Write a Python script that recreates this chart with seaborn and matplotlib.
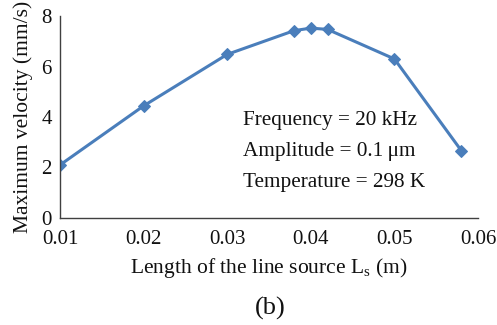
import matplotlib
matplotlib.use("Agg")
import matplotlib.pyplot as plt
import seaborn as sns
import pandas as pd

length_m = [0.01, 0.02, 0.03, 0.038, 0.04, 0.042, 0.05, 0.058]
max_velocity = [2.1, 4.44, 6.48, 7.42, 7.52, 7.47, 6.30, 2.67]
x_ticks = [0.01, 0.02, 0.03, 0.04, 0.05, 0.06]
x_tick_labels = ["0.01", "0.02", "0.03", "0.04", "0.05", "0.06"]
y_ticks = [0, 2, 4, 6, 8]
annotations = ["Frequency = 20 kHz", "Amplitude = 0.1\u2009\u03bcm", "Temperature = 298 K"]

sns.set_style("white")
plt.rcParams['font.family'] = ['Liberation Serif', 'DejaVu Serif']
plt.rcParams['mathtext.fontset'] = 'custom'
plt.rcParams['mathtext.rm'] = 'Liberation Serif'

df = pd.DataFrame({"L": length_m, "V": max_velocity})

fig = plt.figure(figsize=(4.97, 3.25), dpi=100)
ax = fig.add_axes([60/497, (325-218)/325, (478-60)/497, (218-16)/325])
color = "#4A7EBB"
sns.lineplot(data=df, x="L", y="V", ax=ax, color=color, linewidth=2.2,
             marker="D", markersize=6, markeredgecolor=color, markerfacecolor=color)

ax.set_xlim(0.01, 0.06)
ax.set_ylim(0, 8)
ax.set_xticks(x_ticks)
ax.set_xticklabels(x_tick_labels)
ax.set_yticks(y_ticks)
for s in ["top", "right"]:
    ax.spines[s].set_visible(False)
for s in ["left", "bottom"]:
    ax.spines[s].set_color("#404040")
    ax.spines[s].set_linewidth(1.0)
ax.tick_params(axis="both", direction="in", length=5, width=1.0, color="#404040",
               labelsize=15, labelcolor="#111111")
ax.tick_params(axis="x", pad=9)
ax.tick_params(axis="y", pad=6)
ax.set_xlabel("Length of the line source L$_\\mathrm{s}$ (m)", fontsize=15.5, color="#111111", labelpad=5)
ax.set_ylabel("Maximum velocity (mm/s)", fontsize=15.5, color="#111111", labelpad=6)

for i, t in enumerate(annotations):
    ax.text(243/497, (325-120-31.5*i)/325, t, transform=fig.transFigure,
            fontsize=15.3, color="#111111", va="center", ha="left")

fig.text(270/497, (325-308)/325, "(b)", fontsize=19, color="#111111", ha="center", va="center")

fig.savefig("out.png", dpi=100)
